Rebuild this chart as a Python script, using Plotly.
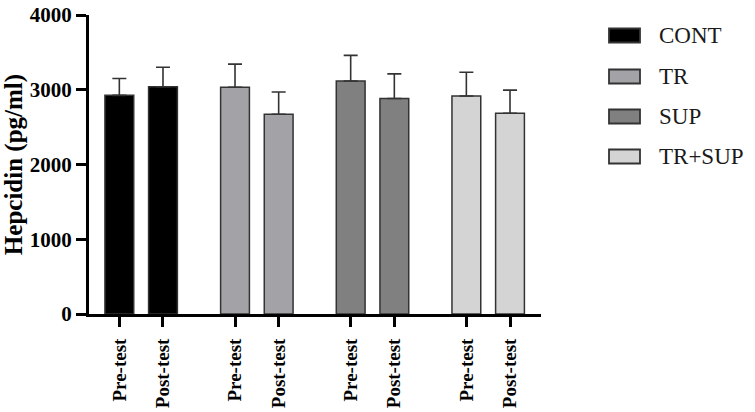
import plotly.graph_objects as go

groups = ["CONT", "TR", "SUP", "TR+SUP"]
phases = ["Pre-test", "Post-test"]
colors = ["#000000", "#a3a3a7", "#808080", "#d4d4d4"]
means = {
    "CONT": [2925, 3040],
    "TR": [3033, 2672],
    "SUP": [3117, 2882],
    "TR+SUP": [2916, 2685],
}
sds = {
    "CONT": [225, 262],
    "TR": [310, 298],
    "SUP": [343, 330],
    "TR+SUP": [318, 310],
}
y_ticks = [0, 1000, 2000, 3000, 4000]

SERIF = "Liberation Serif, Times New Roman, serif"
GAP = 2.65
fig = go.Figure()
tickvals, ticktext = [], []
for gi, g in enumerate(groups):
    xs = [gi * GAP + i for i in range(len(phases))]
    tickvals += xs
    ticktext += phases
    fig.add_trace(go.Bar(
        x=xs, y=means[g], name=g, width=0.66,
        marker=dict(color=colors[gi], line=dict(color="#333333", width=1.5)),
        error_y=dict(type="data", array=sds[g], arrayminus=[0] * len(xs),
                     symmetric=False, color="#333333", thickness=1.6, width=7),
        showlegend=False,
    ))

# plot-area pixel geometry helpers for the custom legend
L, R, T, B, W, H = 89, 214, 15, 98, 755, 412
pw, ph = W - L - R, H - T - B
def px(x):
    return (x - L) / pw
def py(y):
    return (H - B - y) / ph

shapes = []
annotations = []
centers = [35.5, 76.5, 116.5, 156.5]
for gi, g in enumerate(groups):
    c = centers[gi]
    shapes.append(dict(type="rect", xref="paper", yref="paper",
                       x0=px(609), x1=px(640), y0=py(c + 7), y1=py(c - 7),
                       fillcolor=colors[gi], line=dict(color="#333333", width=1.8)))
    annotations.append(dict(xref="paper", yref="paper", x=px(657), y=py(c),
                            text=g, showarrow=False, xanchor="left", yanchor="middle",
                            font=dict(family=SERIF, size=23, color="#1a1a1a")))

fig.update_layout(
    width=W, height=H,
    margin=dict(l=L, r=R, t=T, b=B, autoexpand=False),
    paper_bgcolor="white", plot_bgcolor="white",
    barmode="overlay",
    shapes=shapes, annotations=annotations,
    font=dict(family=SERIF, color="#000000"),
)
fig.update_xaxes(
    range=[-0.695, (len(groups) - 1) * GAP + 1 + 0.71],
    tickvals=tickvals, ticktext=ticktext, tickangle=-90, automargin=False,
    ticklabelstandoff=4,
    tickfont=dict(family=SERIF, size=19, color="#000000", weight="bold"),
    showline=True, linecolor="#000000", linewidth=3,
    ticks="outside", ticklen=10, tickwidth=3, tickcolor="#000000",
    showgrid=False, zeroline=False,
)
fig.update_yaxes(
    range=[0, 4000], tickvals=y_ticks, automargin=False,
    tickfont=dict(family=SERIF, size=21, color="#000000", weight="bold"),
    title=dict(text="Hepcidin (pg/ml)", standoff=6,
               font=dict(family=SERIF, size=25, color="#000000", weight="bold")),
    showline=True, linecolor="#000000", linewidth=3,
    ticks="outside", ticklen=10, tickwidth=3, tickcolor="#000000",
    showgrid=False, zeroline=False,
)
fig.write_html("out.html")
